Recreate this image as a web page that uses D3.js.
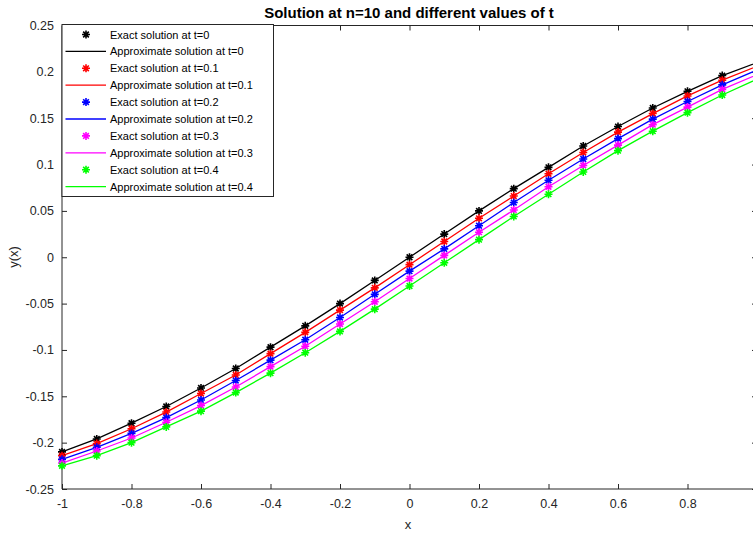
<!DOCTYPE html>
<html><head><meta charset="utf-8">
<script src="https://cdn.jsdelivr.net/npm/d3@7"></script>
<style>
html,body{margin:0;padding:0;background:#fff;}
svg{display:block;font-family:Arial,"Liberation Sans",sans-serif;}
</style></head>
<body>
<svg id="chart" width="753" height="535"></svg>
<script>
// ---- data ----
const xValues = [-1,-0.9,-0.8,-0.7,-0.6,-0.5,-0.4,-0.3,-0.2,-0.1,0,0.1,0.2,0.3,0.4,0.5,0.6,0.7,0.8,0.9,1];
const exactT0  = [-0.210,-0.196,-0.179,-0.161,-0.141,-0.120,-0.097,-0.074,-0.050,-0.025,0.000,0.025,0.050,0.074,0.097,0.120,0.141,0.161,0.179,0.196,0.210];
const exactT1  = [-0.214,-0.201,-0.185,-0.167,-0.147,-0.127,-0.104,-0.081,-0.057,-0.033,-0.008,0.017,0.042,0.066,0.090,0.113,0.135,0.155,0.174,0.191,0.206];
const exactT2  = [-0.218,-0.205,-0.190,-0.173,-0.154,-0.133,-0.111,-0.089,-0.065,-0.040,-0.015,0.009,0.034,0.059,0.083,0.106,0.128,0.149,0.168,0.186,0.202];
const exactT3  = [-0.222,-0.209,-0.195,-0.178,-0.160,-0.140,-0.118,-0.096,-0.072,-0.048,-0.023,0.002,0.027,0.051,0.076,0.099,0.121,0.143,0.162,0.181,0.197];
const exactT4  = [-0.225,-0.214,-0.200,-0.183,-0.166,-0.146,-0.125,-0.103,-0.080,-0.056,-0.031,-0.006,0.019,0.044,0.068,0.092,0.115,0.136,0.156,0.175,0.192];
const approxT0 = [-0.210,-0.196,-0.179,-0.161,-0.141,-0.120,-0.097,-0.074,-0.050,-0.025,0.000,0.025,0.050,0.074,0.097,0.120,0.141,0.161,0.179,0.196,0.210];
const approxT1 = [-0.214,-0.201,-0.185,-0.167,-0.147,-0.127,-0.104,-0.081,-0.057,-0.033,-0.008,0.017,0.042,0.066,0.090,0.113,0.135,0.155,0.174,0.191,0.206];
const approxT2 = [-0.218,-0.205,-0.190,-0.173,-0.154,-0.133,-0.111,-0.089,-0.065,-0.040,-0.015,0.009,0.034,0.059,0.083,0.106,0.128,0.149,0.168,0.186,0.202];
const approxT3 = [-0.222,-0.209,-0.195,-0.178,-0.160,-0.140,-0.118,-0.096,-0.072,-0.048,-0.023,0.002,0.027,0.051,0.076,0.099,0.121,0.143,0.162,0.181,0.197];
const approxT4 = [-0.225,-0.214,-0.200,-0.183,-0.166,-0.146,-0.125,-0.103,-0.080,-0.056,-0.031,-0.006,0.019,0.044,0.068,0.092,0.115,0.136,0.156,0.175,0.192];
const tLabels = ["0","0.1","0.2","0.3","0.4"];
const seriesColors = ["#000000","#ff0000","#0000ff","#ff00ff","#00ff00"];
const xTicks = [-1,-0.8,-0.6,-0.4,-0.2,0,0.2,0.4,0.6,0.8];
const yTicks = [-0.25,-0.2,-0.15,-0.1,-0.05,0,0.05,0.1,0.15,0.2,0.25];
const titleText = "Solution at n=10 and different values of t";

const exactSets = [exactT0,exactT1,exactT2,exactT3,exactT4];
const approxSets = [approxT0,approxT1,approxT2,approxT3,approxT4];

// ---- layout ----
const L = 62, R = 757, T = 25.5, B = 489;
const svg = d3.select("#chart");
const x = d3.scaleLinear().domain([-1,1]).range([L,R]);
const y = d3.scaleLinear().domain([-0.25,0.25]).range([B,T]);

const fmt = d => String(+d.toFixed(2));

// axes
const tickLen = 5;
const gB = svg.append("g").attr("transform",`translate(0,${B})`)
  .call(d3.axisBottom(x).tickValues(xTicks).tickFormat(fmt).tickSizeInner(-tickLen).tickSizeOuter(0).tickPadding(10));
const gT = svg.append("g").attr("transform",`translate(0,${T})`)
  .call(d3.axisTop(x).tickValues(xTicks).tickFormat("").tickSizeInner(-tickLen).tickSizeOuter(0));
const gL = svg.append("g").attr("transform",`translate(${L},0)`)
  .call(d3.axisLeft(y).tickValues(yTicks).tickFormat(fmt).tickSizeInner(-tickLen).tickSizeOuter(0).tickPadding(8));
const gR = svg.append("g").attr("transform",`translate(${R},0)`)
  .call(d3.axisRight(y).tickValues(yTicks).tickFormat("").tickSizeInner(-tickLen).tickSizeOuter(0));
[gB,gT,gL,gR].forEach(g=>{
  g.selectAll("path.domain").attr("stroke","#262626").attr("stroke-width",1);
  g.selectAll(".tick line").attr("stroke","#262626").attr("stroke-width",1);
  g.selectAll("text").attr("fill","#262626").style("font-size","12.5px").style("font-family","Arial, 'Liberation Sans', sans-serif");
});
gB.select("path.domain").attr("d",`M${L},0H${R}`);
gT.select("path.domain").attr("d",`M${L},0H${R}`);
gL.select("path.domain").attr("d",`M0,${T}V${B}`);
gR.select("path.domain").attr("d",`M0,${T}V${B}`);

// series
const line = d3.line().x((d,i)=>x(xValues[i])).y(d=>y(d));
const star = d3.symbol().type({draw(ctx,size){
  const r = Math.sqrt(size)/2;
  const a = r*Math.SQRT1_2;
  ctx.moveTo(-r,0); ctx.lineTo(r,0);
  ctx.moveTo(0,-r); ctx.lineTo(0,r);
  ctx.moveTo(-a,-a); ctx.lineTo(a,a);
  ctx.moveTo(-a,a); ctx.lineTo(a,-a);
}}).size(64);

const plot = svg.append("g");
approxSets.forEach((vals,k)=>{
  plot.append("path").datum(vals).attr("d",line).attr("fill","none")
    .attr("stroke",seriesColors[k]).attr("stroke-width",1.3);
});
exactSets.forEach((vals,k)=>{
  plot.append("g").selectAll("path").data(vals).join("path")
    .attr("d",star).attr("transform",(d,i)=>`translate(${x(xValues[i])},${y(d)})`)
    .attr("fill","none").attr("stroke",seriesColors[k]).attr("stroke-width",1.6);
});

// title & labels
svg.append("text").attr("x",409).attr("y",17.5).attr("text-anchor","middle")
  .style("font-size","15px").style("font-weight","bold").attr("fill","#000").text(titleText);
svg.append("text").attr("x",408).attr("y",529).attr("text-anchor","middle")
  .style("font-size","13px").attr("fill","#262626").text("x");
svg.append("text").attr("transform","translate(18,257) rotate(-90)").attr("text-anchor","middle")
  .style("font-size","13px").attr("fill","#262626").text("y(x)");

// legend
const legX = L, legY = T - 1, legW = 211.5, legH = 172;
const leg = svg.append("g");
leg.append("rect").attr("x",legX).attr("y",legY).attr("width",legW).attr("height",legH)
  .attr("fill","#fff").attr("stroke","#262626").attr("stroke-width",1);
const legendItems = [];
tLabels.forEach((t,k)=>{
  legendItems.push({kind:"exact",k,label:`Exact solution at t=${t}`});
  legendItems.push({kind:"approx",k,label:`Approximate solution at t=${t}`});
});
const rowH = 16.9, row0 = legY + 10;
legendItems.forEach((it,i)=>{
  const cy = row0 + i*rowH;
  if(it.kind==="exact"){
    leg.append("path").attr("d",star).attr("transform",`translate(86,${cy})`)
      .attr("fill","none").attr("stroke",seriesColors[it.k]).attr("stroke-width",1.6);
  } else {
    leg.append("line").attr("x1",65.5).attr("x2",106).attr("y1",cy).attr("y2",cy)
      .attr("stroke",seriesColors[it.k]).attr("stroke-width",1.3);
  }
  leg.append("text").attr("x",110).attr("y",cy+4).style("font-size","11px")
    .attr("fill","#000").text(it.label);
});
</script>
</body></html>
